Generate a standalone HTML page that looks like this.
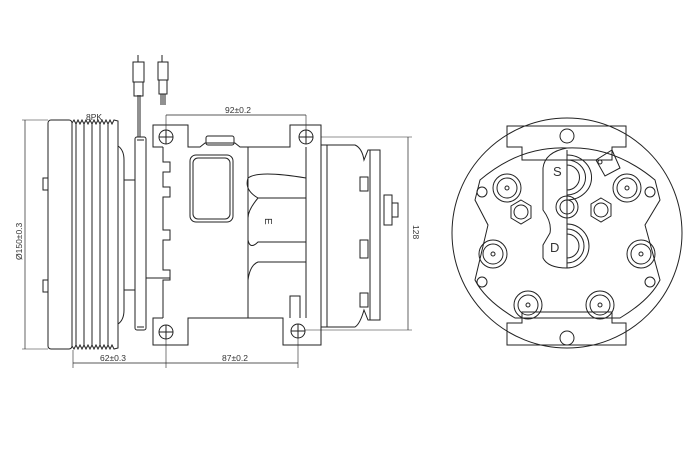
<!DOCTYPE html>
<html><head><meta charset="utf-8"><style>
html,body{margin:0;padding:0;background:#fff;width:700px;height:460px;overflow:hidden}
svg{display:block}
text{font-family:"Liberation Sans",sans-serif;fill:#333}
</style></head><body>
<svg width="700" height="460" viewBox="0 0 700 460" xmlns="http://www.w3.org/2000/svg">
<g fill="none" stroke="#222" stroke-width="1">
<line x1="25" y1="120" x2="25" y2="349" stroke-width="0.7"/>
<line x1="22" y1="120" x2="48" y2="120" stroke-width="0.6"/>
<line x1="22" y1="349" x2="48" y2="349" stroke-width="0.6"/>
<rect x="48" y="120" width="24" height="229" rx="3"/>
<path d="M72 123 L74 120 L76 124 L78 120 L80 124 L82 120 L84 124 L86 120 L88 124 L90 120 L92 124 L94 120 L96 124 L98 120 L100 124 L102 120 L104 124 L106 120 L108 124 L110 120 L112 124 L114 120 L118 121 L118 348 L114 349 L112 345 L110 349 L108 345 L106 349 L104 345 L102 349 L100 345 L98 349 L96 345 L94 349 L92 345 L90 349 L88 345 L86 349 L84 345 L82 349 L80 345 L78 349 L76 345 L74 349 L72 346"/>
<line x1="76" y1="124" x2="76" y2="345"/><line x1="84" y1="124" x2="84" y2="345"/>
<line x1="92" y1="124" x2="92" y2="345"/><line x1="100" y1="124" x2="100" y2="345"/>
<line x1="108" y1="124" x2="108" y2="345"/>
<rect x="43" y="178" width="5" height="12"/><rect x="43" y="280" width="5" height="12"/>
<path d="M118 146 Q124 150 124 160 L124 310 Q124 320 118 324"/>
<rect x="124" y="180" width="11" height="110"/>
<rect x="135" y="137" width="11" height="193" rx="2"/>
<line x1="137" y1="140" x2="144" y2="140"/><line x1="137" y1="327" x2="144" y2="327"/>
<line x1="138" y1="95" x2="138" y2="137"/><line x1="140" y1="95" x2="140" y2="137"/>
<rect x="133" y="62" width="11" height="20"/><rect x="134" y="82" width="9" height="14"/>
<line x1="138" y1="55" x2="138" y2="62"/>
<rect x="158" y="62" width="10" height="18"/><rect x="159" y="80" width="8" height="14"/>
<line x1="161" y1="94" x2="161" y2="105"/><line x1="163" y1="94" x2="163" y2="105"/><line x1="165" y1="94" x2="165" y2="105"/>
<line x1="162" y1="55" x2="162" y2="62"/>
<!-- body -->
<path d="M163 147 L153 147 L153 125 L188 125 L188 147 L200 147 L205 143 L235 143 L240 147 L290 147 L290 125 L321 125 L321 345 L283 345 L283 318 L188 318 L188 345 L153 345 L153 318 L163 318"/>
<path d="M163 147 L163 162 L170 162 L170 172 L163 172 L163 187 L170 187 L170 197 L163 197 L163 230 L170 230 L170 240 L163 240 L163 270 L170 270 L170 280 L163 280 L163 318"/>
<line x1="146" y1="278" x2="170" y2="278"/>
<circle cx="166" cy="137" r="7"/><line x1="159" y1="137" x2="173" y2="137"/><line x1="166" y1="130" x2="166" y2="144"/>
<circle cx="306" cy="137" r="7"/><line x1="299" y1="137" x2="313" y2="137"/><line x1="306" y1="130" x2="306" y2="144"/>
<circle cx="166" cy="332" r="7"/><line x1="159" y1="332" x2="173" y2="332"/><line x1="166" y1="325" x2="166" y2="339"/>
<circle cx="298" cy="331" r="7"/><line x1="291" y1="331" x2="305" y2="331"/><line x1="298" y1="324" x2="298" y2="338"/>
<rect x="206" y="136" width="28" height="9" rx="2"/>
<rect x="190" y="155" width="43" height="67" rx="6"/><rect x="193" y="158" width="37" height="61" rx="5"/>
<line x1="248" y1="147" x2="248" y2="318"/>
<path d="M248 178 Q258 170 306 178 M248 178 Q244 190 258 198 L306 198 M258 198 Q248 210 248 218 M248 240 Q250 250 258 242 L306 242 M248 280 Q250 265 258 262 L306 262"/>
<line x1="306" y1="147" x2="306" y2="318"/>
<path d="M290 318 L290 296 L300 296 L300 318"/>
<rect x="321" y="145" width="6" height="182"/>
<path d="M327 145 L355 145 Q362 148 364 160 L368 150 L380 150 L380 320 L368 320 L364 310 Q360 324 355 327 L327 327"/>
<rect x="370" y="150" width="10" height="170"/>
<rect x="360" y="177" width="8" height="14"/><rect x="360" y="240" width="8" height="18"/><rect x="360" y="293" width="8" height="14"/>
<rect x="384" y="195" width="8" height="30"/><rect x="392" y="203" width="6" height="14"/>
<line x1="321" y1="137" x2="412" y2="137" stroke-width="0.6"/>
<line x1="305" y1="330" x2="412" y2="330" stroke-width="0.6"/>
<line x1="408" y1="137" x2="408" y2="330" stroke-width="0.7"/>
<line x1="166" y1="115" x2="306" y2="115" stroke-width="0.7"/>
<line x1="166" y1="115" x2="166" y2="130" stroke-width="0.6"/><line x1="306" y1="115" x2="306" y2="130" stroke-width="0.6"/>
<line x1="73" y1="350" x2="73" y2="368" stroke-width="0.6"/>
<line x1="166" y1="339" x2="166" y2="368" stroke-width="0.6"/>
<line x1="298" y1="338" x2="298" y2="368" stroke-width="0.6"/>
<line x1="73" y1="363" x2="298" y2="363" stroke-width="0.7"/>

<!-- right view -->
<circle cx="567" cy="233" r="115"/>
<path d="M507 126 L626 126 L626 147 L612 147 L612 160 L522 160 L522 147 L507 147 Z"/>
<circle cx="567" cy="136" r="7"/>
<path d="M507 345 L626 345 L626 323 L612 323 L612 312 L522 312 L522 323 L507 323 Z"/>
<circle cx="567" cy="338" r="7"/>
<path d="M480 180 Q520 146 567 148 Q614 146 655 180 L660 200 L645 225 L660 280 Q650 300 620 318 L515 318 Q485 300 475 280 L488 225 L475 200 Z"/>
<path d="M567 148 Q545 152 543 168 L543 210 Q552 222 550 233 L543 245 L543 258 Q548 268 567 268"/>
<path d="M567 155 A24 22 0 0 1 567 200 M567 160 A18 17 0 0 1 567 195 M567 165 A12 12 0 0 1 567 190"/>
<path d="M567 224 A22 22 0 0 1 567 268 M567 229 A17 17 0 0 1 567 263 M567 234 A12 12 0 0 1 567 258"/>
<line x1="567" y1="150" x2="567" y2="268"/>
<path d="M596 160 L612 150 L620 168 L605 176 Z"/><circle cx="600" cy="162" r="2"/>
<circle cx="567" cy="207" r="11"/><circle cx="567" cy="207" r="7"/>
<circle cx="482" cy="192" r="5"/><circle cx="650" cy="192" r="5"/>
<circle cx="482" cy="282" r="5"/><circle cx="650" cy="282" r="5"/>
<circle cx="507" cy="188" r="14"/><circle cx="507" cy="188" r="10"/><circle cx="507" cy="188" r="2"/>
<circle cx="627" cy="188" r="14"/><circle cx="627" cy="188" r="10"/><circle cx="627" cy="188" r="2"/>
<circle cx="493" cy="254" r="14"/><circle cx="493" cy="254" r="10"/><circle cx="493" cy="254" r="2"/>
<circle cx="641" cy="254" r="14"/><circle cx="641" cy="254" r="10"/><circle cx="641" cy="254" r="2"/>
<circle cx="528" cy="305" r="14"/><circle cx="528" cy="305" r="10"/><circle cx="528" cy="305" r="2"/>
<circle cx="600" cy="305" r="14"/><circle cx="600" cy="305" r="10"/><circle cx="600" cy="305" r="2"/>
<polygon points="521,200 531,206 531,218 521,224 511,218 511,206"/><circle cx="521" cy="212" r="7"/>
<polygon points="601,198 611,204 611,216 601,222 591,216 591,204"/><circle cx="601" cy="210" r="7"/>
</g>
<g font-size="8.5">
<text x="86" y="120">8PK</text>
<text x="225" y="113">92±0.2</text>
<text x="100" y="361">62±0.3</text>
<text x="222" y="361">87±0.2</text>
<text x="265" y="218" font-size="10" transform="rotate(90 265 218)">E</text>
<text transform="translate(22 260) rotate(-90)">Ø150±0.3</text>
<text transform="translate(413 225) rotate(90)">128</text>
<text x="553" y="176" font-size="13" fill="#555">S</text>
<text x="550" y="252" font-size="13" fill="#555">D</text>
</g>
</svg>
</body></html>
